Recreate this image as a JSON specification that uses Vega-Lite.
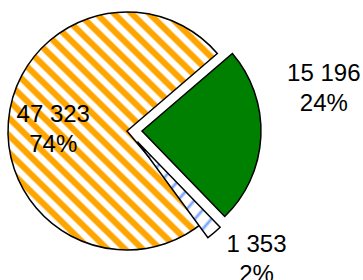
{
  "$schema": "https://vega.github.io/schema/vega-lite/v6.json",
  "width": 363,
  "height": 280,
  "padding": 0,
  "autosize": {"type": "none"},
  "background": "white",
  "config": {"view": {"stroke": null}},
  "params": [
    {"name": "cx", "value": 127},
    {"name": "cy", "value": 131}
  ],
  "data": {
    "values": [
      {"category": "A", "value": 47323},
      {"category": "B", "value": 15196},
      {"category": "C", "value": 1353}
    ]
  },
  "transform": [
    {"joinaggregate": [{"op": "sum", "field": "value", "as": "total"}]},
    {"stack": "value", "groupby": [], "sort": [{"field": "value", "order": "descending"}], "as": ["v0", "v1"]},
    {"calculate": "(datum.v0 + datum.v1) / 2", "as": "mid"},
    {"calculate": "replace(format(datum.value, ','), ',', ' ') + '\\n' + format(datum.value / datum.total, '.0%')", "as": "lbl"}
  ],
  "layer": [
    {
      "transform": [{"filter": "datum.category === 'A'"}],
      "layer": [
        {
          "mark": {
            "type": "arc", "outerRadius": 119, "x": {"expr": "cx"}, "y": {"expr": "cy"},
            "stroke": "black", "strokeWidth": 1.5,
            "fill": {
              "gradient": "linear", "x1": 0, "y1": 1, "x2": 0.863, "y2": 0,
              "stops": [
                {"offset": 0, "color": "#fff"}, {"offset": 0.0150, "color": "#fff"}, {"offset": 0.0208, "color": "#ffa500"}, {"offset": 0.0358, "color": "#ffa500"},
                {"offset": 0.0417, "color": "#fff"}, {"offset": 0.0567, "color": "#fff"}, {"offset": 0.0625, "color": "#ffa500"}, {"offset": 0.0775, "color": "#ffa500"},
                {"offset": 0.0833, "color": "#fff"}, {"offset": 0.0983, "color": "#fff"}, {"offset": 0.1042, "color": "#ffa500"}, {"offset": 0.1192, "color": "#ffa500"},
                {"offset": 0.1250, "color": "#fff"}, {"offset": 0.1400, "color": "#fff"}, {"offset": 0.1458, "color": "#ffa500"}, {"offset": 0.1608, "color": "#ffa500"},
                {"offset": 0.1667, "color": "#fff"}, {"offset": 0.1817, "color": "#fff"}, {"offset": 0.1875, "color": "#ffa500"}, {"offset": 0.2025, "color": "#ffa500"},
                {"offset": 0.2083, "color": "#fff"}, {"offset": 0.2233, "color": "#fff"}, {"offset": 0.2292, "color": "#ffa500"}, {"offset": 0.2442, "color": "#ffa500"},
                {"offset": 0.2500, "color": "#fff"}, {"offset": 0.2650, "color": "#fff"}, {"offset": 0.2708, "color": "#ffa500"}, {"offset": 0.2858, "color": "#ffa500"},
                {"offset": 0.2917, "color": "#fff"}, {"offset": 0.3067, "color": "#fff"}, {"offset": 0.3125, "color": "#ffa500"}, {"offset": 0.3275, "color": "#ffa500"},
                {"offset": 0.3333, "color": "#fff"}, {"offset": 0.3483, "color": "#fff"}, {"offset": 0.3542, "color": "#ffa500"}, {"offset": 0.3692, "color": "#ffa500"},
                {"offset": 0.3750, "color": "#fff"}, {"offset": 0.3900, "color": "#fff"}, {"offset": 0.3958, "color": "#ffa500"}, {"offset": 0.4108, "color": "#ffa500"},
                {"offset": 0.4167, "color": "#fff"}, {"offset": 0.4317, "color": "#fff"}, {"offset": 0.4375, "color": "#ffa500"}, {"offset": 0.4525, "color": "#ffa500"},
                {"offset": 0.4583, "color": "#fff"}, {"offset": 0.4733, "color": "#fff"}, {"offset": 0.4792, "color": "#ffa500"}, {"offset": 0.4942, "color": "#ffa500"},
                {"offset": 0.5000, "color": "#fff"}, {"offset": 0.5150, "color": "#fff"}, {"offset": 0.5208, "color": "#ffa500"}, {"offset": 0.5358, "color": "#ffa500"},
                {"offset": 0.5417, "color": "#fff"}, {"offset": 0.5567, "color": "#fff"}, {"offset": 0.5625, "color": "#ffa500"}, {"offset": 0.5775, "color": "#ffa500"},
                {"offset": 0.5833, "color": "#fff"}, {"offset": 0.5983, "color": "#fff"}, {"offset": 0.6042, "color": "#ffa500"}, {"offset": 0.6192, "color": "#ffa500"},
                {"offset": 0.6250, "color": "#fff"}, {"offset": 0.6400, "color": "#fff"}, {"offset": 0.6458, "color": "#ffa500"}, {"offset": 0.6608, "color": "#ffa500"},
                {"offset": 0.6667, "color": "#fff"}, {"offset": 0.6817, "color": "#fff"}, {"offset": 0.6875, "color": "#ffa500"}, {"offset": 0.7025, "color": "#ffa500"},
                {"offset": 0.7083, "color": "#fff"}, {"offset": 0.7233, "color": "#fff"}, {"offset": 0.7292, "color": "#ffa500"}, {"offset": 0.7442, "color": "#ffa500"},
                {"offset": 0.7500, "color": "#fff"}, {"offset": 0.7650, "color": "#fff"}, {"offset": 0.7708, "color": "#ffa500"}, {"offset": 0.7858, "color": "#ffa500"},
                {"offset": 0.7917, "color": "#fff"}, {"offset": 0.8067, "color": "#fff"}, {"offset": 0.8125, "color": "#ffa500"}, {"offset": 0.8275, "color": "#ffa500"},
                {"offset": 0.8333, "color": "#fff"}, {"offset": 0.8483, "color": "#fff"}, {"offset": 0.8542, "color": "#ffa500"}, {"offset": 0.8692, "color": "#ffa500"},
                {"offset": 0.8750, "color": "#fff"}, {"offset": 0.8900, "color": "#fff"}, {"offset": 0.8958, "color": "#ffa500"}, {"offset": 0.9108, "color": "#ffa500"},
                {"offset": 0.9167, "color": "#fff"}, {"offset": 0.9317, "color": "#fff"}, {"offset": 0.9375, "color": "#ffa500"}, {"offset": 0.9525, "color": "#ffa500"},
                {"offset": 0.9583, "color": "#fff"}, {"offset": 0.9733, "color": "#fff"}, {"offset": 0.9792, "color": "#ffa500"}, {"offset": 0.9942, "color": "#ffa500"},
                {"offset": 1, "color": "#fff"}
              ]
            }
          },
          "encoding": {
            "theta": {"field": "v0", "type": "quantitative", "scale": {"range": [2.44, 8.7232], "nice": false, "zero": true}},
            "theta2": {"field": "v1"}
          }
        },
        {
          "mark": {
            "type": "text", "radius": 74, "x": {"expr": "cx"}, "y": {"expr": "cy"}, "dy": -10,
            "align": "center", "baseline": "middle", "lineBreak": "\n", "lineHeight": 30,
            "font": "Liberation Sans", "fontSize": 24, "fill": "black"
          },
          "encoding": {
            "theta": {"field": "mid", "type": "quantitative", "stack": null},
            "text": {"field": "lbl", "type": "nominal"}
          }
        }
      ]
    },
    {
      "transform": [{"filter": "datum.category === 'B'"}],
      "layer": [
        {
          "mark": {
            "type": "arc", "outerRadius": 119, "x": {"expr": "cx + 15"}, "y": {"expr": "cy"},
            "stroke": "black", "strokeWidth": 1.5, "fill": "#008000"
          },
          "encoding": {
            "theta": {"field": "v0", "type": "quantitative"},
            "theta2": {"field": "v1"}
          }
        },
        {
          "mark": {
            "type": "text", "radius": 182, "x": {"expr": "cx + 15"}, "y": {"expr": "cy"}, "dy": -65,
            "align": "center", "baseline": "middle", "lineBreak": "\n", "lineHeight": 30,
            "font": "Liberation Sans", "fontSize": 24, "fill": "black"
          },
          "encoding": {
            "theta": {"field": "mid", "type": "quantitative", "stack": null},
            "text": {"field": "lbl", "type": "nominal"}
          }
        }
      ]
    },
    {
      "transform": [{"filter": "datum.category === 'C'"}],
      "layer": [
        {
          "mark": {
            "type": "arc", "outerRadius": 119, "x": {"expr": "cx + 10.4"}, "y": {"expr": "cy + 10.8"},
            "stroke": "black", "strokeWidth": 1.5,
            "fill": {
              "gradient": "linear", "x1": 0, "y1": 0, "x2": 1, "y2": 1,
              "stops": [
                {"offset": 0, "color": "#fff"},
                {"offset": 0.03, "color": "#fff"}, {"offset": 0.05, "color": "#6f9cff"}, {"offset": 0.07, "color": "#fff"},
                {"offset": 0.13, "color": "#fff"}, {"offset": 0.15, "color": "#6f9cff"}, {"offset": 0.17, "color": "#fff"},
                {"offset": 0.23, "color": "#fff"}, {"offset": 0.25, "color": "#6f9cff"}, {"offset": 0.27, "color": "#fff"},
                {"offset": 0.33, "color": "#fff"}, {"offset": 0.35, "color": "#6f9cff"}, {"offset": 0.37, "color": "#fff"},
                {"offset": 0.43, "color": "#fff"}, {"offset": 0.45, "color": "#6f9cff"}, {"offset": 0.47, "color": "#fff"},
                {"offset": 0.53, "color": "#fff"}, {"offset": 0.55, "color": "#6f9cff"}, {"offset": 0.57, "color": "#fff"},
                {"offset": 0.63, "color": "#fff"}, {"offset": 0.65, "color": "#6f9cff"}, {"offset": 0.67, "color": "#fff"},
                {"offset": 0.73, "color": "#fff"}, {"offset": 0.75, "color": "#6f9cff"}, {"offset": 0.77, "color": "#fff"},
                {"offset": 0.83, "color": "#fff"}, {"offset": 0.85, "color": "#6f9cff"}, {"offset": 0.87, "color": "#fff"},
                {"offset": 1, "color": "#fff"}
              ]
            }
          },
          "encoding": {
            "theta": {"field": "v0", "type": "quantitative"},
            "theta2": {"field": "v1"}
          }
        },
        {
          "mark": {
            "type": "text", "radius": 166, "x": {"expr": "cx + 10.4"}, "y": {"expr": "cy + 10.8"}, "dx": 12, "dy": -24,
            "align": "center", "baseline": "middle", "lineBreak": "\n", "lineHeight": 30,
            "font": "Liberation Sans", "fontSize": 24, "fill": "black"
          },
          "encoding": {
            "theta": {"field": "mid", "type": "quantitative", "stack": null},
            "text": {"field": "lbl", "type": "nominal"}
          }
        }
      ]
    }
  ]
}
